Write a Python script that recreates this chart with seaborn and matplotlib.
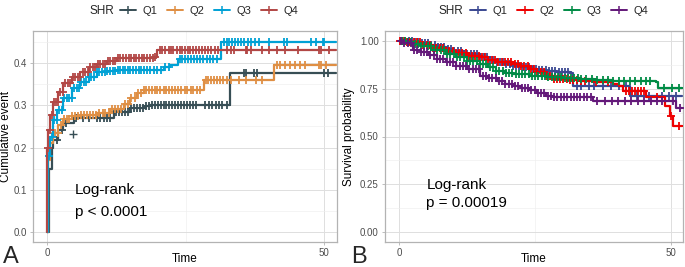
import numpy as np
import pandas as pd
import matplotlib
matplotlib.use("Agg")
import matplotlib.pyplot as plt
from matplotlib.lines import Line2D
import seaborn as sns

# ---------------- data: panel A (cumulative event) ----------------
groups = ["Q1", "Q2", "Q3", "Q4"]
colors_a = ["#374E55", "#DF8F44", "#00A1D5", "#B24745"]
colors_b = ["#3B4992", "#EE0000", "#008B45", "#631879"]

a_q1_t = [0, 0.3, 0.84, 1.14, 2.05, 2.95, 4.8, 9.0, 12.0, 15.0, 17.7, 18.6, 33.0, 52.2]
a_q1_v = [0, 0.15, 0.20, 0.218, 0.242, 0.258, 0.269, 0.271, 0.285, 0.293, 0.299, 0.301, 0.377, 0.377]
a_q2_t = [0, 0.2, 0.54, 1.14, 2.05, 2.95, 4.46, 5.97, 9.0, 11.4, 13.8, 15.0, 16.2, 17.4, 28.3, 40.9, 52.2]
a_q2_v = [0, 0.17, 0.21, 0.234, 0.254, 0.267, 0.275, 0.278, 0.283, 0.291, 0.303, 0.317, 0.33, 0.336, 0.359, 0.396, 0.396]
a_q3_t = [0, 0.1, 0.54, 1.14, 1.75, 2.95, 4.46, 5.97, 7.5, 9.0, 10.8, 12.5, 21.0, 22.2, 23.7, 31.3, 52.2]
a_q3_v = [0, 0.18, 0.226, 0.265, 0.289, 0.317, 0.34, 0.356, 0.368, 0.378, 0.382, 0.384, 0.39, 0.396, 0.409, 0.451, 0.451]
a_q4_t = [0, 0.05, 0.24, 0.54, 1.14, 2.05, 2.95, 4.46, 5.97, 7.5, 9.0, 10.8, 12.6, 15.0, 19.2, 19.8, 52.2]
a_q4_v = [0, 0.20, 0.242, 0.277, 0.309, 0.332, 0.352, 0.368, 0.38, 0.39, 0.397, 0.406, 0.412, 0.413, 0.415, 0.43, 0.43]

a_q1_cens = [1.8, 2.6, 3.4, 5.2, 6.4, 7.5, 9.0, 9.6, 10.2, 10.8, 11.4, 12.0, 12.5, 13.0, 13.5, 14.0, 14.6,
             15.1, 15.6, 16.2, 16.8, 17.3, 17.9, 18.4, 19.0, 19.5, 20.0, 20.5, 21.0, 21.5, 22.0, 22.5,
             23.1, 23.6, 24.1, 24.7, 25.2, 25.8, 26.3, 26.9, 28.5, 29.2, 29.8, 30.4, 31.0, 31.6, 32.4,
             35.5, 35.8, 37.3, 37.9, 50.0, 50.6]
a_q1_extra_t = [4.75]
a_q1_extra_v = [0.233]
a_q2_cens = [1.5, 2.0, 2.5, 3.0, 3.5, 4.0, 4.5, 5.0, 5.6, 6.1, 6.6, 7.2, 7.7, 8.3, 8.8, 9.4, 10.0, 10.5,
             11.1, 11.7, 12.2, 12.8, 13.4, 14.0, 14.6, 15.2, 15.8, 16.4, 16.9, 17.4, 17.9, 18.4, 18.9,
             19.4, 19.9, 20.4, 21.0, 21.5, 22.0, 22.6, 23.1, 23.7, 24.2, 24.8, 25.3, 25.9, 26.4, 27.0,
             27.5, 28.6, 29.1, 29.6, 30.1, 30.7, 31.2, 31.8, 32.4, 33.1, 34.6, 35.8, 37.6, 38.8,
             41.5, 42.1, 43.0, 43.9, 44.8, 45.7, 46.6, 49.1, 49.4, 50.3]
a_q3_cens = [0.4, 0.8, 1.2, 1.7, 2.1, 2.6, 3.0, 3.5, 3.9, 4.4, 4.8, 5.3, 5.7, 6.2, 6.6, 7.1, 7.6, 8.0,
             8.5, 9.0, 9.4, 9.9, 10.4, 10.8, 11.3, 11.8, 12.2, 12.7, 13.2, 13.6, 14.1, 14.6, 15.0, 15.5,
             16.0, 16.5, 17.0, 17.5, 18.0, 18.6, 19.2, 19.8, 20.5, 21.3, 22.0, 23.9, 24.4, 24.9, 25.4,
             25.9, 26.5, 27.0, 27.6, 28.2, 28.8, 29.4, 30.0, 30.6, 31.9, 32.4, 32.9, 33.4, 33.9, 34.5,
             35.0, 35.6, 36.2, 36.8, 37.5, 38.2, 40.0, 42.7, 43.3, 47.6, 48.5, 49.7, 50.0]
a_q4_cens = [0.2, 0.5, 0.9, 1.3, 1.6, 2.0, 2.4, 2.9, 3.3, 3.7, 4.2, 4.6, 5.0, 5.5, 5.9, 6.4, 6.8, 7.3,
             7.7, 8.2, 8.6, 9.1, 9.5, 10.0, 10.5, 10.9, 11.4, 11.8, 12.3, 12.8, 13.2, 13.7, 14.2, 14.7,
             15.1, 15.6, 16.0, 16.6, 17.1, 17.5, 18.0, 18.6, 19.1, 19.5, 20.3, 20.8, 21.3, 21.9, 22.4,
             22.8, 23.4, 23.9, 24.3, 24.9, 25.4, 25.8, 26.4, 26.9, 27.4, 27.9, 28.5, 29.0, 29.6, 30.2,
             30.8, 32.5, 33.1, 33.7, 35.8, 36.1, 36.7, 38.8, 40.0, 41.5, 43.0, 45.2, 49.1, 49.4, 50.9]

# ---------------- data: panel B (survival probability) ----------------
b_q1_t = [0, 1, 2.6, 4, 5.5, 7, 8.7, 10, 12, 14.9, 16.5, 18, 19.5, 21, 22.5, 24.1, 25.5, 27.1, 29,
          31.5, 32.1, 42.5, 52.2]
b_q1_v = [1, 0.998, 0.995, 0.985, 0.975, 0.965, 0.957, 0.945, 0.93, 0.913, 0.9, 0.89, 0.88, 0.87,
          0.862, 0.853, 0.847, 0.844, 0.838, 0.831, 0.765, 0.713, 0.713]
b_q2_t = [0, 1.5, 2.6, 4, 6, 8.7, 10.5, 12.5, 14.9, 16.5, 18, 21, 22.5, 24.1, 25.5, 27.1, 28.5, 31,
          33.3, 36.3, 39.4, 40.6, 41.2, 45.5, 48.9, 49.9, 50.5, 52.2]
b_q2_v = [1, 0.995, 0.991, 0.978, 0.962, 0.948, 0.935, 0.92, 0.913, 0.9, 0.89, 0.878, 0.865, 0.852,
          0.835, 0.815, 0.80, 0.795, 0.791, 0.783, 0.775, 0.765, 0.739, 0.705, 0.661, 0.609, 0.557, 0.557]
b_q3_t = [0, 1.5, 2.6, 4, 6, 8.7, 10.5, 12.5, 14.9, 16.5, 17.9, 19.5, 21, 24, 27.1, 30, 33.3, 36,
          39.4, 43, 47.4, 47.7, 52.2]
b_q3_v = [1, 0.993, 0.983, 0.97, 0.952, 0.93, 0.915, 0.895, 0.878, 0.862, 0.844, 0.832, 0.826, 0.815,
          0.809, 0.803, 0.8, 0.795, 0.791, 0.787, 0.783, 0.751, 0.751]
b_q4_t = [0, 1, 2.6, 4, 5.5, 7, 8.7, 10.5, 12.5, 14.9, 16.5, 18, 19.5, 21, 22.5, 24, 25.5, 27.1,
          28.4, 35.7, 51.1, 52.2]
b_q4_v = [1, 0.99, 0.95, 0.94, 0.925, 0.905, 0.887, 0.87, 0.85, 0.818, 0.805, 0.79, 0.775, 0.765,
          0.755, 0.74, 0.727, 0.713, 0.708, 0.687, 0.647, 0.647]

b_q1_cens = [0.6, 1.2, 1.8, 2.4, 3.0, 3.6, 4.2, 4.8, 5.4, 6.0, 6.6, 7.2, 7.8, 8.4, 9.0, 9.6, 10.2,
             10.8, 11.4, 12.0, 12.6, 13.2, 13.8, 14.4, 15.0, 15.6, 16.2, 16.8, 17.4, 18.0, 18.6, 19.2,
             19.8, 20.4, 21.0, 21.6, 22.2, 22.8, 23.4, 24.0, 24.6, 25.2, 25.8, 26.4, 27.0, 27.6, 28.2,
             28.8, 29.4, 30.0, 30.6, 31.2, 32.8, 33.6, 35.0, 36.0, 37.5, 39.0, 40.5, 41.8, 43.8, 46.0,
             48.5, 49.7, 51.0]
b_q2_cens = [0.3, 0.9, 1.5, 2.1, 2.7, 3.3, 3.9, 4.5, 5.1, 5.7, 6.3, 6.9, 7.5, 8.1, 8.7, 9.3, 9.9,
             10.5, 11.1, 11.7, 12.3, 12.9, 13.5, 14.1, 14.7, 15.3, 15.9, 16.5, 17.1, 17.7, 18.3, 18.9,
             19.5, 20.1, 20.7, 21.3, 21.9, 22.5, 23.1, 23.7, 24.3, 24.9, 25.5, 26.1, 26.7, 27.3, 27.9,
             28.5, 29.1, 29.7, 30.3, 30.9, 31.5, 32.1, 32.8, 33.5, 34.3, 36.3, 38.5, 41.8, 42.3, 42.9,
             43.5, 44.0, 44.6, 45.2, 47.5, 50.0, 51.5]
b_q3_cens = [0.5, 1.1, 1.7, 2.3, 2.9, 3.5, 4.1, 4.7, 5.3, 5.9, 6.5, 7.1, 7.7, 8.3, 8.9, 9.5, 10.1,
             10.7, 11.3, 11.9, 12.5, 13.1, 13.7, 14.3, 14.9, 15.5, 16.1, 16.7, 17.3, 17.9, 18.5, 19.1,
             19.7, 20.3, 20.9, 21.5, 22.1, 22.7, 23.3, 23.9, 24.5, 25.1, 25.7, 26.3, 26.9, 27.5, 28.1,
             28.7, 29.3, 29.9, 30.5, 31.1, 31.7, 32.3, 33.0, 33.5, 34.5, 35.5, 36.5, 37.5, 38.5, 39.5,
             40.5, 41.5, 42.5, 43.5, 44.5, 45.5, 46.3, 48.8, 50.2, 51.5]
b_q4_cens = [0.4, 1.0, 1.6, 2.2, 2.8, 3.4, 4.0, 4.6, 5.2, 5.8, 6.4, 7.0, 7.6, 8.2, 8.8, 9.4, 10.0,
             10.6, 11.2, 11.8, 12.4, 13.0, 13.6, 14.2, 14.8, 15.4, 16.0, 16.6, 17.2, 17.8, 18.4, 19.0,
             19.6, 20.2, 20.8, 21.4, 22.0, 22.6, 23.2, 23.8, 24.4, 25.0, 25.6, 26.2, 26.8, 27.4, 28.0,
             28.6, 29.2, 29.8, 30.4, 31.0, 31.6, 32.2, 32.8, 33.4, 34.0, 34.7, 35.4, 36.5, 38.0, 39.2,
             40.4, 41.6, 42.8, 44.0, 45.2, 46.4, 47.6, 48.5, 50.5, 51.8]

panel_a = [(a_q1_t, a_q1_v, a_q1_cens), (a_q2_t, a_q2_v, a_q2_cens),
           (a_q3_t, a_q3_v, a_q3_cens), (a_q4_t, a_q4_v, a_q4_cens)]
panel_b = [(b_q1_t, b_q1_v, b_q1_cens), (b_q2_t, b_q2_v, b_q2_cens),
           (b_q3_t, b_q3_v, b_q3_cens), (b_q4_t, b_q4_v, b_q4_cens)]

# ---------------- style ----------------
sns.set_theme(style="white")
plt.rcParams["font.family"] = ["Liberation Sans", "DejaVu Sans"]

fig = plt.figure(figsize=(6.85, 2.67), dpi=100)
W, H = 685, 267


def px_axes(x0, y0, x1, y1):
    return fig.add_axes([x0 / W, 1 - y1 / H, (x1 - x0) / W, (y1 - y0) / H])


ax_a = px_axes(33, 31, 337, 242)
ax_b = px_axes(385, 31, 683, 242)


def step_value(t, v, c):
    t = np.asarray(t)
    v = np.asarray(v)
    idx = np.searchsorted(t, np.asarray(c), side="right") - 1
    return v[idx]


def draw_panel(ax, data, colors):
    for i, (t, v, cens) in enumerate(data):
        df = pd.DataFrame({"Time": t, "val": v})
        sns.lineplot(data=df, x="Time", y="val", ax=ax, color=colors[i], lw=1.6,
                     drawstyle="steps-post", estimator=None, sort=False, zorder=3 + i)
        cdf = pd.DataFrame({"Time": cens, "val": step_value(t, v, cens)})
        sns.scatterplot(data=cdf, x="Time", y="val", ax=ax, marker="+", color=colors[i],
                        s=28, linewidth=1.3, zorder=3 + i)


def style_axes(ax, ylim, yticks, ylabels, yminor, ylabel, ylabel_x):
    ax.set_xlim(-2.55, 52.3)
    ax.set_ylim(*ylim)
    ax.set_xticks([0, 50])
    ax.set_xticklabels(["0", "50"])
    ax.set_xticks([25], minor=True)
    ax.set_yticks(yticks)
    ax.set_yticklabels(ylabels)
    ax.set_yticks(yminor, minor=True)
    ax.grid(True, which="major", color="#DEDEDE", lw=0.7, zorder=0)
    ax.grid(True, which="minor", color="#EEEEEE", lw=0.45, zorder=0)
    ax.set_axisbelow(True)
    for s in ax.spines.values():
        s.set_color("#B3B3B3")
        s.set_linewidth(0.9)
    ax.tick_params(axis="both", which="major", length=2.5, width=0.6, color="#B3B3B3",
                   labelcolor="#4D4D4D", labelsize=7, pad=2, left=True, bottom=True)
    ax.tick_params(axis="both", which="minor", length=0)
    ax.set_xlabel("Time", fontsize=8.5, color="black")
    ax.xaxis.set_label_coords(0.5, -0.052)
    ax.set_ylabel(ylabel, fontsize=8.5, color="black")
    ax.yaxis.set_label_coords(ylabel_x, 0.5)


draw_panel(ax_a, panel_a, colors_a)
sns.scatterplot(x=a_q1_extra_t, y=a_q1_extra_v, ax=ax_a, marker="+", color=colors_a[0],
                s=40, linewidth=1.0, zorder=3)
draw_panel(ax_b, panel_b, colors_b)

style_axes(ax_a, (-0.0235, 0.476), [0, 0.1, 0.2, 0.3, 0.4], ["0.0", "0.1", "0.2", "0.3", "0.4"],
           [0.05, 0.15, 0.25, 0.35, 0.45], "Cumulative event", -0.068)
style_axes(ax_b, (-0.05, 1.05), [0, 0.25, 0.5, 0.75, 1.0], ["0.00", "0.25", "0.50", "0.75", "1.00"],
           [0.125, 0.375, 0.625, 0.875], "Survival probability", -0.102)

# annotations
ax_a.text(5.05, 0.0995, "Log-rank", fontsize=11, va="center", ha="left", color="black")
ax_a.text(5.05, 0.047, "p < 0.0001", fontsize=11, va="center", ha="left", color="black")
ax_b.text(5.05, 0.247, "Log-rank", fontsize=11, va="center", ha="left", color="black")
ax_b.text(5.05, 0.152, "p = 0.00019", fontsize=11, va="center", ha="left", color="black")

fig.text(3 / W, 1 - 263 / H, "A", fontsize=17, va="baseline", ha="left")
fig.text(351 / W, 1 - 263 / H, "B", fontsize=17, va="baseline", ha="left")

# legends
for colors, x_title, x_leg in [(colors_a, 89, 120), (colors_b, 439, 470)]:
    fig.text(x_title / W, 1 - 11 / H, "SHR", fontsize=8.5, va="center", ha="left")
    handles = [Line2D([], [], color=c, lw=1.4, marker="+", markersize=6, mew=1.1) for c in colors]
    fig.legend(handles, groups, loc="center left", bbox_to_anchor=(x_leg / W, 1 - 11 / H),
               ncol=4, frameon=False, fontsize=8, handlelength=1.4, handletextpad=0.6,
               columnspacing=0.9, borderpad=0, borderaxespad=0)

fig.savefig("out.png", dpi=100)
